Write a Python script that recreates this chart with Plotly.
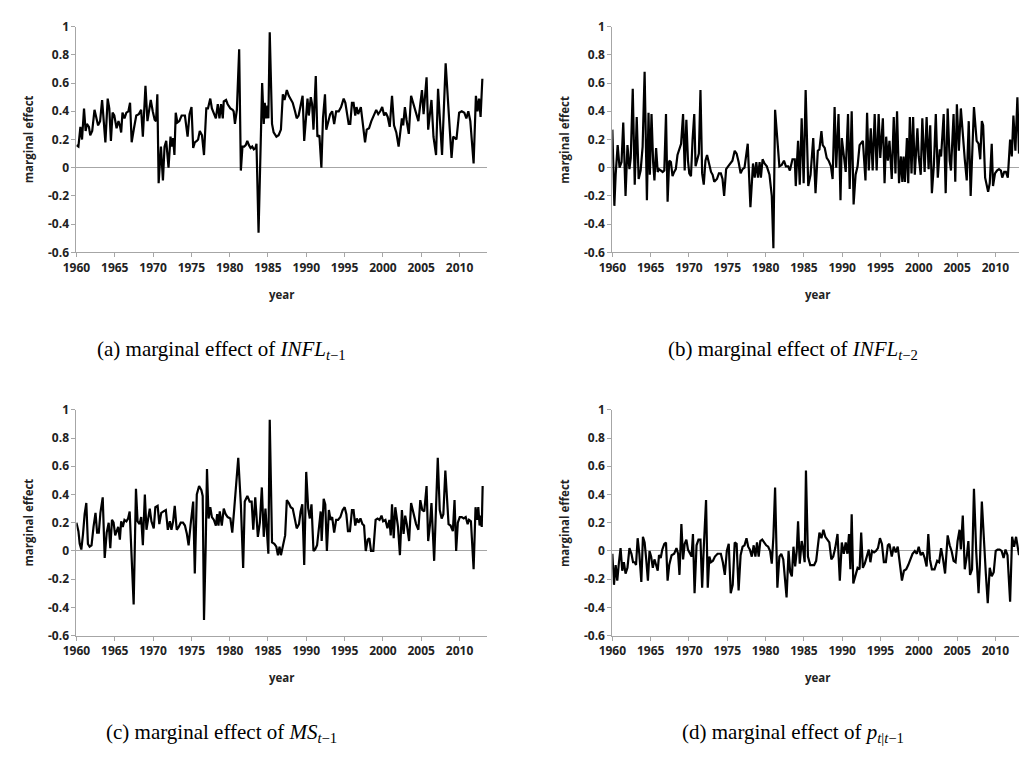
import plotly.graph_objects as go

# ---------------- data ----------------
YEAR_TICKS = [1960, 1965, 1970, 1975, 1980, 1985, 1990, 1995, 2000, 2005, 2010]
YEAR_LABELS = [str(v) for v in YEAR_TICKS]
Y_TICKS = [1, 0.8, 0.6, 0.4, 0.2, 0, -0.2, -0.4, -0.6]
Y_LABELS = ["1", "0.8", "0.6", "0.4", "0.2", "0", "-0.2", "-0.4", "-0.6"]

years_a = [1960.00, 1960.26, 1960.52, 1960.73, 1960.99, 1961.20, 1961.37, 1961.63, 1961.80, 1962.06,
           1962.36, 1962.66, 1962.83, 1963.09, 1963.35, 1963.78, 1964.08, 1964.29, 1964.50, 1964.72,
           1964.94, 1965.24, 1965.49, 1965.67, 1965.84, 1966.01, 1966.27, 1966.52, 1966.78, 1967.00,
           1967.21, 1967.51, 1967.81, 1968.15, 1968.45, 1968.67, 1969.01, 1969.27, 1969.44, 1969.70,
           1969.96, 1970.21, 1970.39, 1970.56, 1970.73, 1971.03, 1971.29, 1971.50, 1971.72, 1972.02,
           1972.28, 1972.45, 1972.62, 1972.79, 1972.96, 1973.18, 1973.43, 1973.73, 1974.16, 1974.51,
           1974.76, 1975.02, 1975.24, 1975.45, 1975.71, 1975.88, 1976.10, 1976.39, 1976.65, 1976.95,
           1977.17, 1977.47, 1977.68, 1977.94, 1978.20, 1978.45, 1978.67, 1978.88, 1979.10, 1979.23,
           1979.53, 1979.74, 1980.09, 1980.39, 1980.52, 1980.69, 1980.94, 1981.24, 1981.46, 1981.67,
           1981.89, 1982.10, 1982.30, 1982.52, 1982.73, 1982.94, 1983.15, 1983.37, 1983.50, 1983.77,
           1984.24, 1984.45, 1984.58, 1984.75, 1984.93, 1985.05, 1985.23, 1985.53, 1985.74, 1986.10,
           1986.39, 1986.69, 1986.94, 1987.16, 1987.46, 1987.72, 1987.97, 1988.23, 1988.53, 1988.75,
           1989.00, 1989.26, 1989.52, 1989.73, 1989.95, 1990.16, 1990.33, 1990.59, 1990.76, 1990.94,
           1991.24, 1991.45, 1991.71, 1991.97, 1992.18, 1992.44, 1992.61, 1992.87, 1993.12, 1993.38,
           1993.64, 1993.90, 1994.24, 1994.54, 1994.88, 1995.10, 1995.36, 1995.53, 1995.74, 1995.96,
           1996.17, 1996.39, 1996.56, 1996.77, 1997.12, 1997.41, 1997.67, 1997.89, 1998.19, 1998.49,
           1998.83, 1999.13, 1999.39, 1999.65, 1999.91, 2000.16, 2000.38, 2000.63, 2000.89, 2001.19,
           2001.45, 2001.75, 2002.05, 2002.27, 2002.48, 2002.65, 2002.87, 2003.08, 2003.38, 2003.68,
           2003.98, 2004.28, 2004.63, 2004.88, 2005.10, 2005.31, 2005.70, 2005.91, 2006.08, 2006.34,
           2006.60, 2006.94, 2007.20, 2007.46, 2007.72, 2008.19, 2008.49, 2008.96, 2009.18, 2009.35,
           2009.60, 2009.95, 2010.29, 2010.63, 2010.89, 2011.15, 2011.41, 2011.84, 2012.14, 2012.35,
           2012.55, 2012.75, 2012.98]
vals_a = [0.16, 0.15, 0.29, 0.20, 0.42, 0.26, 0.31, 0.29, 0.23, 0.26,
          0.41, 0.35, 0.30, 0.33, 0.48, 0.18, 0.49, 0.42, 0.19, 0.39,
          0.37, 0.28, 0.33, 0.30, 0.25, 0.39, 0.35, 0.39, 0.40, 0.46,
          0.18, 0.28, 0.37, 0.38, 0.41, 0.22, 0.58, 0.33, 0.40, 0.48,
          0.40, 0.34, 0.33, 0.52, -0.11, 0.15, -0.09, 0.15, 0.19, 0.00,
          0.22, 0.15, 0.21, 0.09, 0.39, 0.32, 0.33, 0.37, 0.37, 0.22,
          0.38, 0.43, 0.14, 0.18, 0.19, 0.20, 0.26, 0.23, 0.09, 0.42,
          0.42, 0.49, 0.42, 0.39, 0.35, 0.45, 0.35, 0.45, 0.35, 0.47,
          0.48, 0.45, 0.42, 0.41, 0.40, 0.31, 0.41, 0.84, -0.02, 0.15,
          0.15, 0.16, 0.19, 0.16, 0.14, 0.15, 0.13, 0.14, 0.17, -0.46,
          0.60, 0.31, 0.46, 0.35, 0.44, 0.35, 0.96, 0.31, 0.25, 0.22,
          0.23, 0.27, 0.52, 0.48, 0.55, 0.51, 0.48, 0.46, 0.40, 0.35,
          0.37, 0.44, 0.51, 0.19, 0.38, 0.49, 0.37, 0.50, 0.45, 0.27,
          0.65, 0.22, 0.23, 0.00, 0.35, 0.52, 0.27, 0.33, 0.38, 0.40,
          0.31, 0.40, 0.40, 0.43, 0.49, 0.46, 0.37, 0.31, 0.31, 0.46,
          0.46, 0.37, 0.43, 0.38, 0.43, 0.31, 0.18, 0.27, 0.28, 0.33,
          0.38, 0.41, 0.38, 0.40, 0.43, 0.37, 0.39, 0.36, 0.29, 0.51,
          0.30, 0.25, 0.15, 0.27, 0.35, 0.30, 0.43, 0.34, 0.24, 0.51,
          0.45, 0.39, 0.33, 0.45, 0.55, 0.38, 0.64, 0.27, 0.35, 0.48,
          0.22, 0.09, 0.56, 0.32, 0.09, 0.74, 0.45, 0.07, 0.22, 0.21,
          0.20, 0.39, 0.40, 0.39, 0.35, 0.40, 0.33, 0.03, 0.51, 0.40,
          0.49, 0.36, 0.63]

years_b = [1960.00, 1960.26, 1960.43, 1960.69, 1960.94, 1961.20, 1961.42, 1961.72, 1961.97, 1962.23,
           1962.40, 1962.66, 1962.92, 1963.18, 1963.43, 1963.69, 1963.95, 1964.21, 1964.51, 1964.72,
           1964.89, 1965.11, 1965.32, 1965.49, 1965.71, 1965.92, 1966.09, 1966.31, 1966.57, 1966.78,
           1967.00, 1967.21, 1967.42, 1967.64, 1967.85, 1968.07, 1968.28, 1968.50, 1968.76, 1968.97,
           1969.23, 1969.44, 1969.66, 1969.87, 1970.04, 1970.26, 1970.47, 1970.69, 1970.86, 1971.07,
           1971.29, 1971.50, 1971.72, 1971.93, 1972.15, 1972.36, 1972.62, 1972.88, 1973.09, 1973.30,
           1973.65, 1973.91, 1974.16, 1974.38, 1974.59, 1974.85, 1975.11, 1975.36, 1975.67, 1975.97,
           1976.22, 1976.48, 1976.74, 1977.00, 1977.25, 1977.67, 1978.02, 1978.36, 1978.58, 1978.79,
           1979.01, 1979.22, 1979.39, 1979.61, 1979.86, 1980.16, 1980.51, 1980.81, 1981.02, 1981.24,
           1981.45, 1981.80, 1982.10, 1982.40, 1982.65, 1982.95, 1983.17, 1983.51, 1983.81, 1983.94,
           1984.24, 1984.46, 1984.71, 1984.97, 1985.23, 1985.57, 1985.87, 1986.22, 1986.52, 1986.82,
           1987.03, 1987.29, 1987.46, 1987.72, 1987.98, 1988.23, 1988.53, 1988.75, 1989.01, 1989.22,
           1989.52, 1989.78, 1989.95, 1990.21, 1990.46, 1990.76, 1990.98, 1991.24, 1991.49, 1991.75,
           1992.01, 1992.27, 1992.44, 1992.70, 1993.04, 1993.25, 1993.47, 1993.73, 1993.98, 1994.24,
           1994.50, 1994.76, 1994.97, 1995.31, 1995.53, 1995.74, 1995.96, 1996.17, 1996.47, 1996.73,
           1996.95, 1997.16, 1997.42, 1997.67, 1997.85, 1998.02, 1998.19, 1998.45, 1998.62, 1998.83,
           1999.05, 1999.26, 1999.48, 1999.82, 1999.99, 2000.25, 2000.46, 2000.76, 2001.02, 2001.28,
           2001.49, 2001.71, 2001.97, 2002.22, 2002.48, 2002.74, 2002.91, 2003.25, 2003.51, 2003.77,
           2004.03, 2004.20, 2004.54, 2004.76, 2004.97, 2005.23, 2005.49, 2005.74, 2006.00, 2006.26,
           2006.52, 2006.77, 2007.20, 2007.55, 2007.80, 2008.02, 2008.23, 2008.40, 2008.66, 2009.05,
           2009.26, 2009.52, 2009.69, 2009.95, 2010.21, 2010.47, 2010.72, 2010.89, 2011.15, 2011.37,
           2011.62, 2011.92, 2012.14, 2012.35, 2012.61, 2012.87, 2013.08]
vals_b = [0.27, -0.27, -0.05, 0.16, 0.00, 0.04, 0.32, -0.20, 0.16, -0.01,
          0.07, 0.56, -0.12, 0.36, -0.08, -0.02, 0.15, 0.68, -0.23, 0.39,
          -0.05, 0.38, 0.04, -0.09, 0.14, -0.03, -0.01, -0.02, -0.03, -0.02,
          0.38, -0.24, 0.05, 0.04, -0.06, -0.03, -0.01, 0.09, 0.14, 0.17,
          0.38, -0.02, 0.34, 0.05, -0.04, -0.06, 0.20, 0.38, 0.01, 0.06,
          0.10, 0.55, -0.04, -0.12, 0.05, 0.09, 0.03, -0.03, -0.05, -0.10,
          -0.08, -0.04, -0.04, -0.08, -0.20, -0.01, 0.01, 0.03, 0.05, 0.12,
          0.10, 0.04, -0.04, -0.01, 0.00, 0.17, -0.28, 0.03, -0.07, 0.04,
          -0.07, 0.04, -0.07, 0.06, 0.03, 0.01, -0.05, -0.20, -0.57, 0.41,
          0.25, 0.01, 0.02, 0.05, 0.01, 0.01, -0.02, 0.06, 0.06, -0.13,
          0.19, -0.12, 0.35, -0.11, 0.55, -0.13, -0.05, 0.21, -0.18, 0.12,
          0.13, 0.26, 0.16, 0.14, 0.07, 0.05, 0.01, -0.08, 0.43, 0.00,
          0.38, -0.23, 0.21, 0.07, -0.03, 0.38, -0.15, 0.40, -0.26, -0.05,
          0.01, 0.16, 0.17, 0.19, -0.09, 0.39, -0.02, 0.28, -0.02, 0.38,
          -0.02, 0.38, 0.07, 0.35, -0.11, 0.22, 0.05, 0.19, -0.08, 0.36,
          -0.04, 0.40, -0.11, 0.08, -0.10, 0.08, -0.10, 0.21, -0.11, 0.36,
          -0.04, 0.36, -0.05, 0.28, 0.08, -0.05, 0.35, -0.03, 0.36, -0.01,
          0.30, -0.18, 0.02, 0.38, -0.07, 0.13, 0.08, 0.38, -0.18, 0.42,
          0.05, -0.02, 0.38, -0.10, 0.45, 0.12, 0.42, 0.21, 0.06, -0.09,
          0.33, -0.20, 0.43, 0.19, 0.17, 0.06, 0.33, 0.30, -0.07, -0.17,
          -0.11, 0.17, -0.13, -0.04, -0.02, -0.01, -0.02, -0.07, -0.03, -0.03,
          -0.07, 0.20, 0.08, 0.37, 0.12, 0.50, 0.10]

years_c = [1960.00, 1960.26, 1960.43, 1960.64, 1960.86, 1961.07, 1961.29, 1961.50, 1961.72, 1961.97,
           1962.23, 1962.49, 1962.70, 1962.92, 1963.13, 1963.43, 1963.69, 1963.95, 1964.21, 1964.42,
           1964.64, 1964.85, 1965.06, 1965.24, 1965.45, 1965.67, 1965.84, 1966.05, 1966.27, 1966.52,
           1966.74, 1966.95, 1967.21, 1967.47, 1967.77, 1967.98, 1968.24, 1968.45, 1968.67, 1968.93,
           1969.14, 1969.36, 1969.57, 1969.79, 1970.09, 1970.30, 1970.60, 1970.82, 1971.07, 1971.37,
           1971.67, 1971.93, 1972.19, 1972.40, 1972.62, 1972.83, 1973.09, 1973.35, 1973.61, 1973.91,
           1974.16, 1974.42, 1974.64, 1974.89, 1975.24, 1975.45, 1975.71, 1976.01, 1976.31, 1976.48,
           1976.65, 1976.87, 1977.04, 1977.25, 1977.47, 1977.68, 1977.94, 1978.20, 1978.37, 1978.54,
           1978.71, 1978.97, 1979.23, 1979.48, 1979.74, 1980.09, 1980.34, 1980.60, 1980.86, 1981.12,
           1981.46, 1981.76, 1981.97, 1982.31, 1982.61, 1982.87, 1983.08, 1983.34, 1983.68, 1983.94,
           1984.20, 1984.45, 1984.67, 1984.88, 1985.05, 1985.23, 1985.53, 1985.83, 1986.09, 1986.30,
           1986.51, 1986.69, 1986.94, 1987.24, 1987.46, 1987.72, 1987.97, 1988.23, 1988.53, 1988.75,
           1989.05, 1989.26, 1989.48, 1989.73, 1989.99, 1990.25, 1990.46, 1990.68, 1990.94, 1991.15,
           1991.41, 1991.66, 1991.88, 1992.01, 1992.27, 1992.48, 1992.69, 1992.95, 1993.17, 1993.38,
           1993.64, 1993.90, 1994.15, 1994.45, 1994.75, 1995.01, 1995.23, 1995.44, 1995.70, 1995.96,
           1996.17, 1996.39, 1996.60, 1996.81, 1997.07, 1997.33, 1997.54, 1997.76, 1998.02, 1998.23,
           1998.45, 1998.75, 1999.05, 1999.30, 1999.56, 1999.82, 2000.03, 2000.33, 2000.59, 2000.85,
           2001.02, 2001.19, 2001.41, 2001.62, 2001.97, 2002.22, 2002.48, 2002.70, 2002.91, 2003.12,
           2003.42, 2003.68, 2004.03, 2004.33, 2004.63, 2004.88, 2005.14, 2005.40, 2005.70, 2005.91,
           2006.13, 2006.34, 2006.69, 2006.90, 2007.16, 2007.42, 2007.67, 2007.89, 2008.15, 2008.36,
           2008.57, 2008.83, 2009.13, 2009.35, 2009.56, 2009.78, 2010.03, 2010.29, 2010.55, 2010.81,
           2011.06, 2011.24, 2011.49, 2011.84, 2012.09, 2012.30, 2012.45, 2012.62, 2012.80, 2012.90,
           2013.02]
vals_c = [0.20, 0.14, 0.05, 0.01, 0.12, 0.26, 0.34, 0.05, 0.03, 0.04,
          0.17, 0.27, 0.13, 0.13, 0.27, 0.38, -0.05, 0.13, 0.20, 0.02,
          0.22, 0.20, 0.11, 0.14, 0.17, 0.08, 0.21, 0.17, 0.22, 0.21,
          0.23, 0.28, 0.00, -0.38, 0.44, 0.21, 0.19, 0.24, 0.04, 0.40,
          0.15, 0.24, 0.30, 0.21, 0.16, 0.31, 0.32, 0.19, 0.27, 0.28,
          0.29, 0.15, 0.21, 0.15, 0.21, 0.32, 0.15, 0.17, 0.20, 0.20,
          0.18, 0.12, 0.04, 0.18, 0.35, -0.16, 0.40, 0.46, 0.43, 0.39,
          -0.49, 0.03, 0.58, 0.23, 0.31, 0.24, 0.22, 0.18, 0.26, 0.18,
          0.28, 0.18, 0.30, 0.26, 0.24, 0.23, 0.13, 0.30, 0.50, 0.66,
          0.33, -0.12, 0.35, 0.39, 0.35, 0.35, 0.15, 0.38, 0.10, 0.20,
          0.45, 0.10, 0.30, 0.07, -0.02, 0.93, 0.06, 0.05, 0.03, -0.03,
          0.03, -0.03, 0.04, 0.11, 0.36, 0.34, 0.31, 0.30, 0.22, 0.16,
          0.19, 0.28, 0.33, -0.10, 0.56, 0.30, 0.23, 0.33, 0.00, 0.01,
          0.04, 0.18, 0.28, 0.07, 0.37, 0.33, 0.00, 0.29, 0.22, 0.24,
          0.13, 0.22, 0.22, 0.24, 0.29, 0.31, 0.26, 0.14, 0.14, 0.29,
          0.29, 0.18, 0.23, 0.20, 0.23, 0.19, 0.18, 0.00, 0.08, 0.09,
          0.00, 0.00, 0.22, 0.23, 0.22, 0.25, 0.21, 0.22, 0.16, 0.22,
          0.11, 0.33, 0.09, 0.31, 0.17, -0.03, 0.29, 0.12, 0.25, 0.19,
          0.07, 0.34, 0.26, 0.19, 0.15, 0.36, 0.29, 0.28, 0.46, 0.07,
          0.18, 0.34, -0.07, 0.25, 0.66, 0.29, 0.23, 0.26, 0.57, 0.38,
          0.19, 0.18, 0.14, 0.36, 0.00, 0.20, 0.24, 0.24, 0.23, 0.24,
          0.19, 0.22, 0.21, -0.13, 0.31, 0.22, 0.31, 0.18, 0.25, 0.17,
          0.46]

years_d = [1960.00, 1960.21, 1960.43, 1960.64, 1960.86, 1961.07, 1961.29, 1961.50, 1961.72, 1961.97,
           1962.23, 1962.49, 1962.70, 1962.92, 1963.09, 1963.30, 1963.52, 1963.78, 1963.99, 1964.21,
           1964.42, 1964.64, 1964.85, 1965.06, 1965.28, 1965.49, 1965.71, 1965.92, 1966.09, 1966.31,
           1966.52, 1966.78, 1967.00, 1967.21, 1967.42, 1967.73, 1968.07, 1968.37, 1968.58, 1968.76,
           1969.01, 1969.23, 1969.44, 1969.66, 1969.87, 1970.09, 1970.34, 1970.52, 1970.73, 1970.99,
           1971.24, 1971.50, 1971.72, 1971.93, 1972.23, 1972.45, 1972.66, 1972.88, 1973.13, 1973.39,
           1973.73, 1974.16, 1974.42, 1974.68, 1974.94, 1975.19, 1975.45, 1975.71, 1975.97, 1976.22,
           1976.48, 1976.74, 1977.00, 1977.25, 1977.51, 1977.73, 1977.94, 1978.20, 1978.45, 1978.67,
           1978.88, 1979.10, 1979.31, 1979.56, 1979.82, 1980.08, 1980.34, 1980.59, 1980.81, 1981.02,
           1981.24, 1981.54, 1981.80, 1982.05, 1982.31, 1982.52, 1982.74, 1983.00, 1983.21, 1983.43,
           1983.64, 1983.86, 1984.07, 1984.24, 1984.46, 1984.71, 1984.89, 1985.10, 1985.27, 1985.53,
           1985.83, 1986.09, 1986.34, 1986.60, 1986.86, 1987.03, 1987.29, 1987.55, 1987.80, 1988.06,
           1988.32, 1988.58, 1988.83, 1989.09, 1989.39, 1989.69, 1989.95, 1990.21, 1990.46, 1990.68,
           1990.89, 1991.07, 1991.24, 1991.45, 1991.75, 1992.01, 1992.27, 1992.48, 1992.70, 1992.95,
           1993.21, 1993.47, 1993.68, 1993.90, 1994.16, 1994.41, 1994.67, 1994.93, 1995.19, 1995.44,
           1995.70, 1995.96, 1996.17, 1996.47, 1996.73, 1996.99, 1997.25, 1997.55, 1997.80, 1998.06,
           1998.36, 1998.62, 1998.92, 1999.18, 1999.48, 1999.74, 1999.99, 2000.25, 2000.51, 2000.77,
           2001.02, 2001.24, 2001.45, 2001.71, 2002.05, 2002.40, 2002.65, 2002.91, 2003.17, 2003.43,
           2003.77, 2004.03, 2004.28, 2004.54, 2004.80, 2005.06, 2005.32, 2005.49, 2005.74, 2006.00,
           2006.26, 2006.47, 2006.69, 2006.95, 2007.20, 2007.50, 2007.80, 2007.97, 2008.23, 2008.49,
           2008.75, 2009.00, 2009.26, 2009.52, 2009.78, 2010.04, 2010.29, 2010.55, 2010.81, 2011.07,
           2011.32, 2011.58, 2011.92, 2012.18, 2012.44, 2012.70, 2012.87, 2013.08]
vals_d = [-0.02, -0.24, -0.10, -0.21, -0.08, 0.02, -0.14, -0.08, -0.16, -0.12,
          0.02, -0.02, -0.08, -0.08, -0.10, 0.09, -0.02, -0.22, 0.10, 0.06,
          -0.06, -0.21, 0.00, -0.04, -0.12, -0.06, -0.10, -0.14, -0.03, -0.05,
          0.01, 0.05, 0.06, -0.21, -0.10, -0.03, -0.02, 0.02, -0.02, -0.17,
          0.19, -0.06, 0.05, 0.08, 0.01, -0.02, -0.04, 0.12, -0.30, 0.04,
          0.08, 0.08, -0.26, 0.02, 0.36, -0.26, -0.04, -0.08, -0.07, -0.04,
          -0.02, -0.02, -0.08, -0.17, 0.00, 0.05, -0.30, -0.24, 0.06, 0.05,
          -0.28, -0.03, 0.03, 0.04, 0.09, 0.03, 0.01, -0.04, 0.04, -0.04,
          0.06, -0.04, 0.07, 0.08, 0.06, 0.04, 0.03, 0.00, -0.09, 0.10,
          0.45, -0.26, -0.04, -0.02, -0.06, -0.18, -0.33, 0.00, -0.15, -0.18,
          0.03, -0.11, 0.00, 0.21, -0.09, 0.07, 0.02, -0.08, 0.57, -0.04,
          -0.10, -0.10, -0.10, -0.07, 0.03, 0.13, 0.09, 0.15, 0.10, 0.08,
          0.06, -0.06, -0.04, 0.02, 0.12, -0.21, 0.06, -0.02, 0.06, -0.02,
          0.12, -0.13, 0.26, -0.23, -0.16, -0.12, -0.13, 0.13, -0.12, -0.09,
          -0.04, 0.01, -0.08, 0.00, -0.01, 0.00, 0.02, 0.09, 0.05, -0.08,
          -0.08, 0.04, 0.05, -0.04, 0.03, -0.01, 0.03, -0.10, -0.21, -0.14,
          -0.13, -0.10, -0.06, -0.02, 0.00, -0.02, 0.03, -0.03, -0.01, -0.05,
          -0.11, 0.12, -0.06, -0.13, -0.13, -0.07, -0.08, 0.02, -0.06, -0.16,
          0.11, 0.04, 0.00, -0.07, -0.08, 0.07, 0.15, 0.01, 0.25, -0.13,
          -0.04, 0.07, -0.17, -0.13, 0.44, -0.01, -0.30, -0.10, 0.35, 0.05,
          -0.16, -0.37, -0.12, -0.18, -0.15, 0.00, 0.01, 0.01, 0.00, -0.05,
          0.01, -0.03, -0.36, 0.10, 0.03, 0.10, 0.03, -0.03]

CAPTIONS = [
    "(a) marginal effect of <i>INFL</i><sub><i>t</i>−1</sub>",
    "(b) marginal effect of <i>INFL</i><sub><i>t</i>−2</sub>",
    "(c) marginal effect of <i>MS</i><sub><i>t</i>−1</sub>",
    "(d) marginal effect of <i>p</i><sub><i>t</i>|<i>t</i>−1</sub>",
]

# ---------------- layout geometry (pixels) ----------------
W, H = 1019, 758
AXIS_GREY = "#a6a6a6"
TEXT = "#222222"
TICK_FONT = dict(family="Open Sans", size=12, color=TEXT, weight=700)
TITLE_FONT = dict(family="Open Sans", size=11.5, color=TEXT, weight=700)

# panel: (x-left px, x-right px, x-range-end, top px, bottom px)
panels = [
    (63.3, 480.0, 2013.64, 18.0, 249.0),
    (606.7, 1019.0, 2013.08, 18.0, 249.0),
    (63.3, 480.0, 2013.64, 410.0, 641.0),
    (606.7, 1019.0, 2013.08, 410.0, 641.0),
]
series = [(years_a, vals_a), (years_b, vals_b), (years_c, vals_c), (years_d, vals_d)]

fig = go.Figure()
layout = dict(
    width=W, height=H, margin=dict(l=0, r=0, t=0, b=0),
    paper_bgcolor="white", plot_bgcolor="white", showlegend=False,
)
annotations = []
for i, ((xl, xr, xend, yt, yb), (yrs, vals)) in enumerate(zip(panels, series)):
    n = "" if i == 0 else str(i + 1)
    fig.add_trace(go.Scatter(
        x=yrs, y=vals, mode="lines",
        line=dict(color="black", width=2.2),
        xaxis="x" + n, yaxis="y" + n, hoverinfo="skip", cliponaxis=True,
    ))
    layout["xaxis" + n] = dict(
        domain=[xl / W, xr / W], range=[1960, xend], anchor="y" + n,
        tickmode="array", tickvals=YEAR_TICKS, ticktext=YEAR_LABELS,
        ticks="outside", ticklen=4, tickwidth=1, tickcolor=AXIS_GREY,
        showline=True, linecolor=AXIS_GREY, linewidth=1,
        showgrid=False, zeroline=False, tickfont=TICK_FONT,
    )
    layout["yaxis" + n] = dict(
        domain=[1 - yb / H, 1 - yt / H], range=[-0.6, 1], anchor="x" + n,
        tickmode="array", tickvals=Y_TICKS, ticktext=Y_LABELS,
        ticks="outside", ticklen=4, tickwidth=1, tickcolor=AXIS_GREY,
        showline=True, linecolor=AXIS_GREY, linewidth=1,
        showgrid=False, zeroline=True, zerolinecolor=AXIS_GREY, zerolinewidth=1,
        tickfont=TICK_FONT,
    )
    # axis titles
    label_x = 15 if xl < 300 else 558
    annotations.append(dict(
        text="marginal effect", textangle=-90, xref="paper", yref="paper",
        x=label_x / W, y=1 - (yt + yb) / 2 / H, showarrow=False,
        xanchor="center", yanchor="middle", font=TITLE_FONT,
    ))
    year_x = 272 if xl < 300 else 815
    annotations.append(dict(
        text="year", xref="paper", yref="paper",
        x=year_x / W, y=1 - (yb + 43) / H, showarrow=False,
        xanchor="center", yanchor="middle", font=TITLE_FONT,
    ))
    cap_x = 210 if xl < 300 else 790
    cap_y = 349 if yt < 300 else 741
    annotations.append(dict(
        text=CAPTIONS[i], xref="paper", yref="paper",
        x=cap_x / W, y=1 - cap_y / H, showarrow=False,
        xanchor="center", yanchor="middle",
        font=dict(family="Liberation Serif", size=21, color="black"),
    ))

layout["annotations"] = annotations
fig.update_layout(**layout)
fig.write_html("out.html")
